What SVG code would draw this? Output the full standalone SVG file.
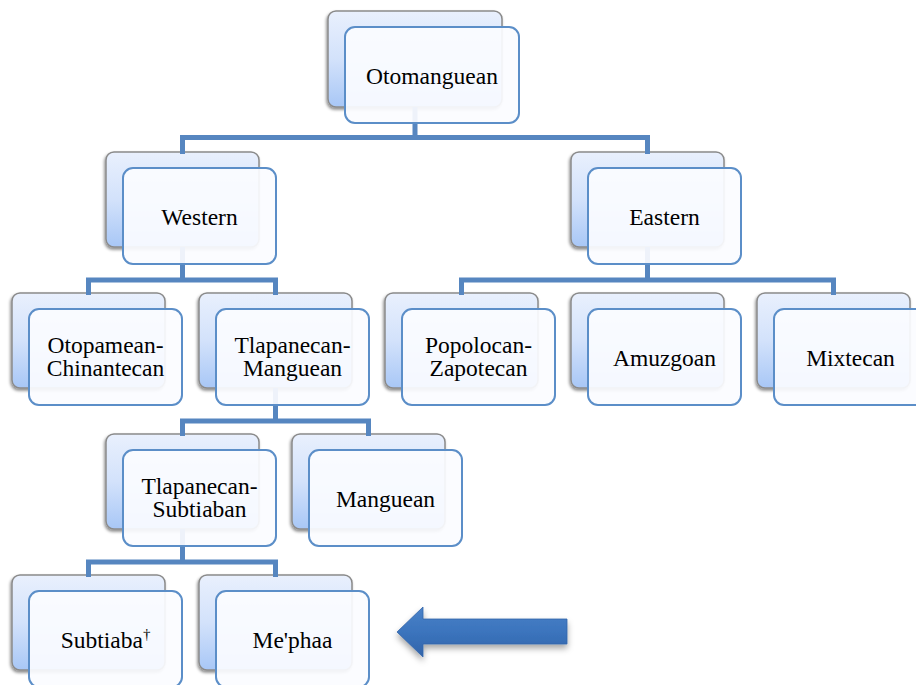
<svg xmlns="http://www.w3.org/2000/svg" width="916" height="685" viewBox="0 0 916 685">
<defs>
<linearGradient id="backGrad" x1="0" y1="0" x2="0" y2="1">
<stop offset="0" stop-color="#e9f0fd"/>
<stop offset="0.5" stop-color="#d3e2fb"/>
<stop offset="1" stop-color="#a8c7f6"/>
</linearGradient>
<linearGradient id="arrowGrad" x1="0" y1="0" x2="0" y2="1">
<stop offset="0" stop-color="#4a82c8"/>
<stop offset="0.5" stop-color="#3b74bd"/>
<stop offset="1" stop-color="#3264aa"/>
</linearGradient>
<filter id="shadow" x="-20%" y="-20%" width="140%" height="150%">
<feDropShadow dx="-1" dy="2" stdDeviation="1.5" flood-color="#000" flood-opacity="0.45"/>
</filter>
<filter id="arrowShadow" x="-20%" y="-40%" width="140%" height="200%">
<feDropShadow dx="0" dy="4" stdDeviation="3" flood-color="#000" flood-opacity="0.35"/>
</filter>
</defs>
<style>
.back{fill:url(#backGrad);stroke:#8a8a8a;stroke-width:1.5;filter:url(#shadow)}
.front{fill:#fbfcff;fill-opacity:0.92;stroke:#5b8ec8;stroke-width:2}
.conn{fill:none;stroke:#5686c0;stroke-width:5;stroke-linejoin:miter;stroke-linecap:butt}
.lbl{font-family:'Liberation Serif','Times New Roman',Times,'DejaVu Serif',serif;font-size:23.5px;fill:#000;text-anchor:middle}
</style>

<g id="back-layer">
<rect class="back" x="328" y="11" width="174" height="96" rx="8"/>
<rect class="back" x="106" y="152" width="153" height="95" rx="8"/>
<rect class="back" x="571" y="152" width="153" height="95" rx="8"/>
<rect class="back" x="12" y="293" width="153" height="95" rx="8"/>
<rect class="back" x="199" y="293" width="153" height="95" rx="8"/>
<rect class="back" x="385" y="293" width="153" height="95" rx="8"/>
<rect class="back" x="571" y="293" width="153" height="95" rx="8"/>
<rect class="back" x="757" y="293" width="153" height="95" rx="8"/>
<rect class="back" x="106" y="434" width="153" height="95" rx="8"/>
<rect class="back" x="292" y="434" width="153" height="95" rx="8"/>
<rect class="back" x="12" y="575" width="153" height="95" rx="8"/>
<rect class="back" x="199" y="575" width="153" height="95" rx="8"/>
</g>

<g id="connectors">
<path class="conn" d="M415,107 V137.5 M182.5,154 V137.5 H647.5 V154"/>
<path class="conn" d="M182.5,247 V280 M88.5,295 V280 H275.5 V295"/>
<path class="conn" d="M647.5,247 V280 M461.5,295 V280 H833.5 V295"/>
<path class="conn" d="M275.5,388 V421 M182.5,436 V421 H368.5 V436"/>
<path class="conn" d="M182.5,529 V562 M88.5,577 V562 H275.5 V577"/>
</g>

<g id="node-otomanguean">
<rect class="front" x="345" y="27" width="174" height="96" rx="10"/>
<text class="lbl" x="432" y="83.5">Otomanguean</text>
</g>
<g id="node-western">
<rect class="front" x="123" y="168" width="153" height="96" rx="10"/>
<text class="lbl" x="199.5" y="224.5">Western</text>
</g>
<g id="node-eastern">
<rect class="front" x="588" y="168" width="153" height="96" rx="10"/>
<text class="lbl" x="664.5" y="224.5">Eastern</text>
</g>
<g id="node-otopamean-chinantecan">
<rect class="front" x="29" y="309" width="153" height="96" rx="10"/>
<text class="lbl" x="105.5" y="352.5">Otopamean-<tspan x="105.5" dy="23.5">Chinantecan</tspan></text>
</g>
<g id="node-tlapanecan-manguean">
<rect class="front" x="216" y="309" width="153" height="96" rx="10"/>
<text class="lbl" x="292.5" y="352.5">Tlapanecan-<tspan x="292.5" dy="23.5">Manguean</tspan></text>
</g>
<g id="node-popolocan-zapotecan">
<rect class="front" x="402" y="309" width="153" height="96" rx="10"/>
<text class="lbl" x="478.5" y="352.5">Popolocan-<tspan x="478.5" dy="23.5">Zapotecan</tspan></text>
</g>
<g id="node-amuzgoan">
<rect class="front" x="588" y="309" width="153" height="96" rx="10"/>
<text class="lbl" x="664.5" y="365.5">Amuzgoan</text>
</g>
<g id="node-mixtecan">
<rect class="front" x="774" y="309" width="153" height="96" rx="10"/>
<text class="lbl" x="850.5" y="365.5">Mixtecan</text>
</g>
<g id="node-tlapanecan-subtiaban">
<rect class="front" x="123" y="450" width="153" height="96" rx="10"/>
<text class="lbl" x="199.5" y="493.5">Tlapanecan-<tspan x="199.5" dy="23.5">Subtiaban</tspan></text>
</g>
<g id="node-manguean">
<rect class="front" x="309" y="450" width="153" height="96" rx="10"/>
<text class="lbl" x="385.5" y="506.5">Manguean</text>
</g>
<g id="node-subtiaba">
<rect class="front" x="29" y="591" width="153" height="96" rx="10"/>
<text class="lbl" x="105.5" y="647.5">Subtiaba<tspan font-size="15" dy="-9">†</tspan></text>
</g>
<g id="node-mephaa">
<rect class="front" x="216" y="591" width="153" height="96" rx="10"/>
<text class="lbl" x="292.5" y="647.5">Me'phaa</text>
</g>

<g id="arrow">
<path d="M567,619 H423 V607 L397,632 L423,657 V644 H567 Z" fill="url(#arrowGrad)" stroke="#3465a8" stroke-width="0.8" filter="url(#arrowShadow)"/>
</g>
</svg>
